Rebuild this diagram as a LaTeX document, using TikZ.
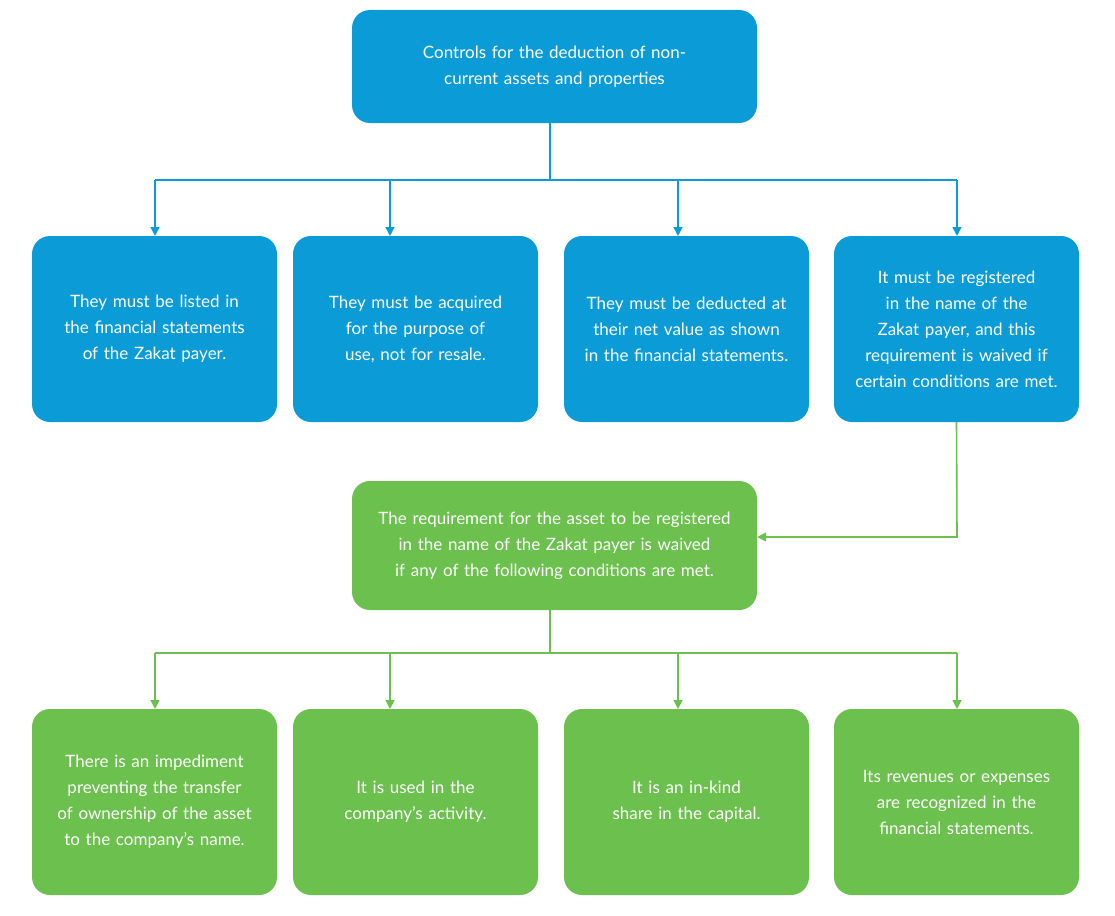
\documentclass[tikz,border=0pt]{standalone}
\usepackage{fontspec}
\setmainfont{Lato}
\usetikzlibrary{arrows.meta}
\definecolor{bl}{HTML}{0B9CD8}
\definecolor{gr}{HTML}{6CC04E}
\tikzset{
 box/.style={rounded corners=18pt,inner sep=0pt,text=white,align=center,font=\fontsize{17}{26}\selectfont},
 bb/.style={box,fill=bl},
 gb/.style={box,fill=gr},
 bc/.style={draw=bl,line width=1.6pt,-{Triangle[width=9pt,length=9pt]}},
 gc/.style={draw=gr,line width=1.6pt,-{Triangle[width=9pt,length=9pt]}},
}
\begin{document}
\begin{tikzpicture}[x=1pt,y=-1pt]
\useasboundingbox (0,0) rectangle (1115,915);
\newcommand\bx[7]{\node[#1,minimum width=#4pt,minimum height=#5pt,text width=#6pt] (#2) at (#3) {#7};}
\bx{bb}{top}{554.5,66.5}{405}{113}{320}{Controls for the deduction of non-\\current assets and properties}
\bx{bb}{a1}{154.5,329}{245}{186}{200}{They must be listed in the financial statements of the Zakat payer.}
\bx{bb}{a2}{415.5,329}{245}{186}{215}{They must be acquired for the purpose of use, not for resale.}
\bx{bb}{a3}{686.5,329}{245}{186}{215}{They must be deducted at their net value as shown in the financial statements.}
\bx{bb}{a4}{956.5,329}{245}{186}{205}{It must be registered in the name of the Zakat payer, and this requirement is waived if certain conditions are met.}
\bx{gb}{mid}{554.5,545.5}{405}{129}{360}{The requirement for the asset to be registered in the name of the Zakat payer is waived if any of the following conditions are met.}
\bx{gb}{b1}{154.5,802}{245}{186}{225}{There is an impediment preventing the transfer of ownership of the asset to the company's name.}
\bx{gb}{b2}{415.5,802}{245}{186}{200}{It is used in the company's activity.}
\bx{gb}{b3}{686.5,802}{245}{186}{200}{It is an in-kind share in the capital.}
\bx{gb}{b4}{956.5,802}{245}{186}{200}{Its revenues or expenses are recognized in the financial statements.}
\coordinate (j1) at (550,180);
\coordinate (j2) at (550,653);
\draw[draw=bl,line width=1.6pt] (550,123) -- (j1);
\draw[draw=bl,line width=1.6pt] (155,180) -- (957,180);
\foreach \x/\n in {155/a1,390/a2,678/a3,957/a4} \draw[bc] (\x,180) -- (\x,236);
\draw[gc] (a4.south) -- (957,537) -- (mid.east|-0,537);
\draw[draw=gr,line width=1.6pt] (550,610) -- (j2);
\draw[draw=gr,line width=1.6pt] (155,653) -- (957,653);
\foreach \x in {155,390,678,957} \draw[gc] (\x,653) -- (\x,709);
\end{tikzpicture}
\end{document}
